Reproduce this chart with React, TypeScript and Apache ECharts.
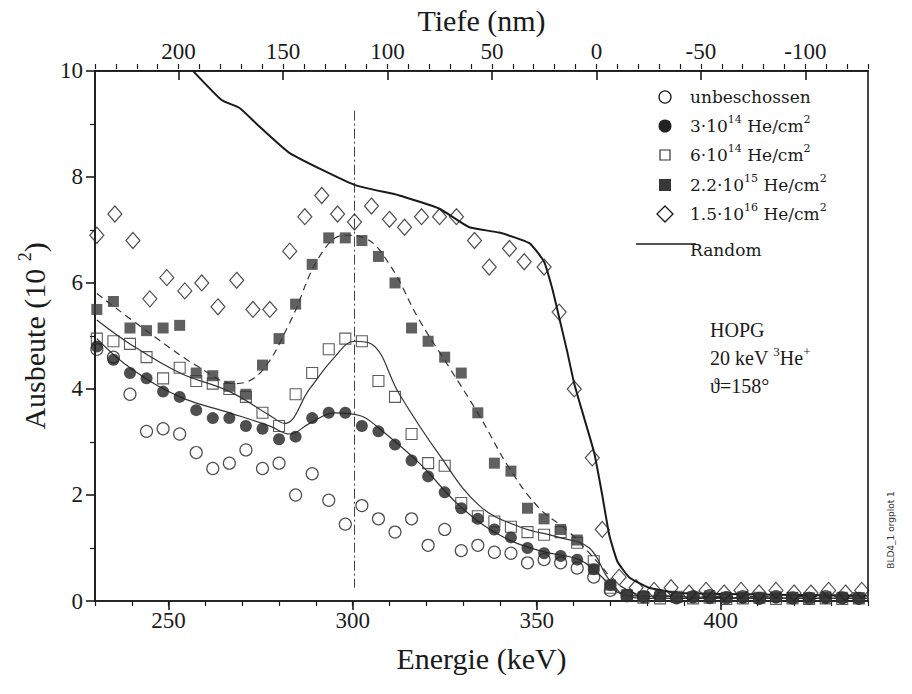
import React, { useEffect, useRef } from 'react';
import * as echarts from 'echarts';

// ---- tick labels ----
const energyLabels = [250, 300, 350, 400];
const depthLabels = [200, 150, 100, 50, 0, -50, -100];

// ---- measured channels (keV) shared by circles and squares ----
const channelEnergy = [
  230.5, 235, 239.5, 244, 248.5, 253, 257.5, 262, 266.5, 271, 275.5, 280, 284.5, 289, 293.5, 298,
  302.5, 307, 311.5, 316, 320.5, 325, 329.5, 334, 338.5, 343, 347.5, 352, 356.5, 361, 365.5, 370,
  374.5, 379, 383.5, 388, 392.5, 397, 401.5, 406, 410.5, 415, 419.5, 424, 428.5, 433, 437.5,
];
const unbeschossen = [
  4.75, 4.6, 3.9, 3.2, 3.25, 3.15, 2.8, 2.5, 2.6, 2.85, 2.5, 2.6, 2.0, 2.4, 1.9, 1.45, 1.8, 1.55,
  1.3, 1.55, 1.05, 1.35, 0.95, 1.05, 0.92, 0.9, 0.72, 0.78, 0.72, 0.62, 0.45, 0.2, 0.1, 0.08, 0.1,
  0.06, 0.08, 0.1, 0.06, 0.08, 0.05, 0.08, 0.06, 0.05, 0.08, 0.06, 0.05,
];
const dose3e14 = [
  4.8, 4.55, 4.3, 4.2, 3.95, 3.85, 3.6, 3.45, 3.45, 3.3, 3.25, 3.05, 3.1, 3.45, 3.55, 3.55, 3.3,
  3.2, 2.95, 2.65, 2.35, 2.05, 1.75, 1.55, 1.35, 1.2, 1.0, 0.9, 0.85, 0.78, 0.6, 0.3, 0.12, 0.08,
  0.1, 0.06, 0.08, 0.05, 0.07, 0.06, 0.05, 0.07, 0.05, 0.06, 0.05, 0.06, 0.05,
];
const dose6e14 = [
  4.95, 4.9, 4.85, 4.6, 4.2, 4.4, 4.15, 4.1, 4.0, 3.85, 3.55, 3.3, 3.9, 4.3, 4.75, 4.95, 4.9, 4.15,
  3.85, 3.15, 2.6, 2.55, 1.85, 1.6, 1.5, 1.4, 1.3, 1.25, 1.3, 1.1, 0.75, 0.25, 0.1, 0.06, 0.05,
  0.08, 0.05, 0.06, 0.04, 0.05, 0.06, 0.04, 0.05, 0.04, 0.05, 0.04, 0.05,
];
const dose22e15 = [
  5.5, 5.65, 5.15, 5.1, 5.15, 5.2, 4.3, 4.25, 4.05, 3.9, 4.45, 4.95, 5.6, 6.35, 6.85, 6.85, 6.8,
  6.5, 6.0, 5.15, 4.9, 4.6, 4.3, 3.55, 2.6, 2.45, 1.75, 1.55, 1.35, 1.15, 0.6, 0.3, 0.12, 0.08, 0.1,
  0.07, 0.08, 0.1, 0.07, 0.08, 0.06, 0.08, 0.07, 0.06, 0.08, 0.07, 0.06,
];
// ---- diamonds (1.5e16) ----
const diamondEnergy = [
  230.5, 235.4, 240.3, 244.9, 249.5, 254.4, 259.0, 263.4, 268.5, 272.9, 277.5, 282.9, 287.0, 291.6,
  295.9, 300.5, 305.1, 310.0, 314.1, 318.7, 323.6, 328.2, 333.1, 337.1, 342.6, 346.6, 352.0, 356.1,
  360.2, 365.1, 367.8, 372.4, 377.0, 381.9, 386.5, 391.4, 396.0, 400.9, 405.5, 410.4, 415.0, 419.9,
  424.5, 429.3, 433.9, 438.3,
];
const dose15e16 = [
  6.9, 7.3, 6.8, 5.7, 6.1, 5.85, 6.0, 5.55, 6.05, 5.5, 5.5, 6.6, 7.25, 7.65, 7.3, 7.15, 7.45, 7.2,
  7.05, 7.25, 7.25, 7.25, 6.8, 6.3, 6.65, 6.4, 6.3, 5.45, 4.0, 2.7, 1.35, 0.45, 0.25, 0.2, 0.25,
  0.15, 0.2, 0.15, 0.2, 0.15, 0.2, 0.15, 0.15, 0.2, 0.15, 0.2,
];
// ---- random spectrum ----
const randomEnergy = [
  256.6, 264.4, 269.3, 273.9, 282.9, 300.5, 312.7, 323.6, 331.7, 339.8, 348.0, 352.0, 354.2, 356.1,
  358.3, 360.2, 362.9, 365.6, 367.8, 369.7, 371.9, 375.1, 380.5, 388.7, 439.7,
];
const randomYield = [
  10, 9.45, 9.3, 9.0, 8.45, 7.85, 7.65, 7.4, 7.05, 6.95, 6.75, 6.4, 5.9, 5.35, 4.7, 4.1, 3.45, 2.8,
  2.0, 1.25, 0.75, 0.45, 0.25, 0.15, 0.1,
];
// ---- guide curves ----
const fit3e14Energy = [230.5, 239.5, 253.1, 266.6, 277.5, 282.9, 288.3, 295.1, 301.9, 307.3, 318.1, 329.0, 339.8, 350.7, 361.5, 367.0, 372.4, 380.5, 439.7];
const fit3e14Yield = [4.95, 4.4, 3.85, 3.55, 3.3, 3.15, 3.35, 3.55, 3.5, 3.25, 2.6, 1.8, 1.25, 0.95, 0.78, 0.5, 0.15, 0.05, 0.05];
const fit6e14Energy = [230.5, 239.5, 253.1, 266.6, 277.5, 281.5, 288.3, 295.1, 300.5, 305.1, 312.7, 323.6, 334.4, 345.3, 356.1, 364.3, 369.7, 375.1, 439.7];
const fit6e14Yield = [5.3, 4.85, 4.3, 3.95, 3.5, 3.35, 4.0, 4.6, 4.9, 4.85, 3.9, 2.75, 1.8, 1.4, 1.2, 1.0, 0.4, 0.1, 0.05];
const fit22e15Energy = [230.5, 244.9, 258.5, 268.0, 274.8, 282.9, 291.0, 297.8, 303.2, 310.0, 318.1, 326.3, 334.4, 342.6, 350.7, 358.8, 367.0, 372.4, 380.5, 439.7];
const fit22e15Yield = [5.8, 5.05, 4.4, 4.1, 4.3, 5.25, 6.5, 6.9, 6.85, 6.35, 5.3, 4.4, 3.5, 2.5, 1.75, 1.3, 0.7, 0.3, 0.1, 0.08];
// ---- vertical marker at the 300 keV / ~115 nm position ----
const markerEnergy = [300.5, 300.5];
const markerYield = [9.25, 0.25];

const SERIF = "'Liberation Serif', serif";
const LEG = "'DejaVu Serif', serif";
const INK = '#1a1a1a';

const pairs = (xs: number[], ys: number[]) => xs.map((x, i) => [x, ys[i]]);

export default function App() {
  const ref = useRef<HTMLDivElement>(null);
  useEffect(() => {
    const chart = echarts.init(ref.current!, null, { renderer: 'svg' });
    const g = { left: 95, top: 64, width: 773, height: 537 };
    const axLine = { color: INK, width: 1.6 };
    const labelStyle = { fontFamily: SERIF, fontSize: 23, color: INK };
    const legRows = [97, 126, 155, 185, 214];
    const symX = 665;
    const txtX = 690;
    const supRich = {
      s: { fontFamily: LEG, fontSize: 11, verticalAlign: 'top', fill: INK, lineHeight: 12 },
    };
    const legText = (y: number, text: string) => ({
      type: 'text',
      x: txtX,
      y,
      style: {
        text,
        fontFamily: LEG,
        fontSize: 17,
        lineHeight: 24,
        fill: INK,
        verticalAlign: 'middle',
        rich: supRich,
      },
    });
    chart.setOption({
      animation: false,
      backgroundColor: '#ffffff',
      textStyle: { fontFamily: SERIF },
      grid: [
        { ...g, show: true, borderColor: INK, borderWidth: 1.6, backgroundColor: 'transparent' },
        { ...g },
      ],
      xAxis: [
        {
          type: 'value', gridIndex: 0, position: 'bottom', min: 230, max: 440,
          name: 'Energie (keV)', nameLocation: 'middle', nameGap: 42,
          nameTextStyle: { fontFamily: SERIF, fontSize: 30, color: INK },
          axisLine: { show: true, onZero: false, lineStyle: axLine },
          axisTick: { show: true, customValues: energyLabels, length: 9, inside: false, lineStyle: axLine },
          axisLabel: { customValues: energyLabels, margin: 8, ...labelStyle },
          splitLine: { show: false },
        },
        {
          type: 'value', gridIndex: 0, position: 'top', inverse: true, min: -130, max: 240,
          name: 'Tiefe (nm)', nameLocation: 'middle', nameGap: 32,
          nameTextStyle: { fontFamily: SERIF, fontSize: 30, color: INK },
          axisLine: { show: true, onZero: false, lineStyle: axLine },
          axisTick: { show: true, customValues: depthLabels, length: 9, inside: true, lineStyle: axLine },
          axisLabel: { customValues: depthLabels, margin: 8, ...labelStyle },
          splitLine: { show: false },
        },
        {
          type: 'value', gridIndex: 1, position: 'bottom', min: 230, max: 440, interval: 10,
          axisLine: { show: false },
          axisTick: { show: true, length: 5, inside: false, lineStyle: { color: INK, width: 1.2 } },
          axisLabel: { show: false }, splitLine: { show: false },
        },
        {
          type: 'value', gridIndex: 1, position: 'top', inverse: true, min: -130, max: 240, interval: 10,
          axisLine: { show: false },
          axisTick: { show: true, length: 5, inside: true, lineStyle: { color: INK, width: 1.2 } },
          axisLabel: { show: false }, splitLine: { show: false },
        },
      ],
      yAxis: [
        {
          type: 'value', gridIndex: 0, min: 0, max: 10, interval: 2,
          name: '{a|Ausbeute (10 }{b|2}{a|)}', nameLocation: 'middle', nameGap: 40, nameRotate: 90,
          nameTextStyle: {
            rich: {
              a: { fontFamily: SERIF, fontSize: 30, color: INK, lineHeight: 36 },
              b: { fontFamily: SERIF, fontSize: 18, color: INK, verticalAlign: 'top', lineHeight: 18 },
            },
          },
          axisLine: { show: true, onZero: false, lineStyle: axLine },
          axisTick: { show: true, length: 9, inside: false, lineStyle: axLine },
          minorTick: { show: true, splitNumber: 2, length: 5, lineStyle: { color: INK, width: 1.2 } },
          axisLabel: { margin: 12, ...labelStyle },
          splitLine: { show: false },
        },
        { type: 'value', gridIndex: 1, min: 0, max: 10, show: false },
      ],
      series: [
        {
          type: 'line', data: pairs(markerEnergy, markerYield), symbol: 'none', silent: true,
          lineStyle: { color: '#444', width: 1, type: [10, 3, 2, 3] }, z: 1,
        },
        {
          type: 'line', data: pairs(randomEnergy, randomYield), symbol: 'none', smooth: 0.15,
          lineStyle: { color: INK, width: 2 }, z: 2,
        },
        {
          type: 'line', data: pairs(fit3e14Energy, fit3e14Yield), symbol: 'none', smooth: 0.4,
          lineStyle: { color: '#333', width: 1.2 }, z: 2,
        },
        {
          type: 'line', data: pairs(fit6e14Energy, fit6e14Yield), symbol: 'none', smooth: 0.4,
          lineStyle: { color: '#333', width: 1.2 }, z: 2,
        },
        {
          type: 'line', data: pairs(fit22e15Energy, fit22e15Yield), symbol: 'none', smooth: 0.4,
          lineStyle: { color: '#333', width: 1.2, type: [7, 5] }, z: 2,
        },
        {
          name: 'unbeschossen', type: 'scatter', data: pairs(channelEnergy, unbeschossen),
          symbol: 'circle', symbolSize: 12,
          itemStyle: { color: 'transparent', borderColor: '#222', borderWidth: 1.2 }, z: 3,
        },
        {
          name: '3e14', type: 'scatter', data: pairs(channelEnergy, dose3e14),
          symbol: 'circle', symbolSize: 12, itemStyle: { color: '#222222' }, z: 3,
        },
        {
          name: '6e14', type: 'scatter', data: pairs(channelEnergy, dose6e14),
          symbol: 'rect', symbolSize: 11,
          itemStyle: { color: 'transparent', borderColor: '#333', borderWidth: 1.1 }, z: 3,
        },
        {
          name: '2.2e15', type: 'scatter', data: pairs(channelEnergy, dose22e15),
          symbol: 'rect', symbolSize: 11, itemStyle: { color: '#383838' }, z: 3,
        },
        {
          name: '1.5e16', type: 'scatter', data: pairs(diamondEnergy, dose15e16),
          symbol: 'diamond', symbolSize: [14, 16],
          itemStyle: { color: 'transparent', borderColor: '#222', borderWidth: 1.2 }, z: 3,
        },
      ],
      graphic: [
        { type: 'circle', shape: { cx: symX, cy: legRows[0], r: 6 }, style: { fill: 'none', stroke: INK, lineWidth: 1.3 } },
        { type: 'circle', shape: { cx: symX, cy: legRows[1], r: 6.5 }, style: { fill: '#222222' } },
        { type: 'rect', shape: { x: symX - 5, y: legRows[2] - 5, width: 10, height: 10 }, style: { fill: 'none', stroke: '#333', lineWidth: 1.2 } },
        { type: 'rect', shape: { x: symX - 6, y: legRows[3] - 6, width: 12, height: 12 }, style: { fill: '#383838' } },
        {
          type: 'polygon',
          shape: { points: [[symX, legRows[4] - 8], [symX + 8, legRows[4]], [symX, legRows[4] + 8], [symX - 8, legRows[4]]] },
          style: { fill: 'none', stroke: INK, lineWidth: 1.3 },
        },
        { type: 'line', shape: { x1: 636, y1: 244, x2: 696, y2: 244 }, style: { stroke: INK, lineWidth: 1.5 } },
        legText(legRows[0], 'unbeschossen'),
        legText(legRows[1], '3·10{s|14} He/cm{s|2}'),
        legText(legRows[2], '6·10{s|14} He/cm{s|2}'),
        legText(legRows[3], '2.2·10{s|15} He/cm{s|2}'),
        legText(legRows[4], '1.5·10{s|16} He/cm{s|2}'),
        legText(250, 'Random'),
        {
          type: 'text', x: 710, y: 330,
          style: { text: 'HOPG', fontFamily: SERIF, fontSize: 20, fill: INK, verticalAlign: 'middle' },
        },
        {
          type: 'text', x: 710, y: 358,
          style: {
            text: '20 keV {s|3}He{s|+}', fontFamily: SERIF, fontSize: 20, lineHeight: 26, fill: INK, verticalAlign: 'middle',
            rich: { s: { fontFamily: SERIF, fontSize: 13, verticalAlign: 'top', fill: INK, lineHeight: 14 } },
          },
        },
        {
          type: 'text', x: 710, y: 386,
          style: { text: 'ϑ=158°', fontFamily: SERIF, fontSize: 20, fill: INK, verticalAlign: 'middle' },
        },
        {
          type: 'text', x: 891, y: 530, rotation: Math.PI / 2,
          style: { text: 'BLD4_1 orgplot 1', fontFamily: "'DejaVu Sans', sans-serif", fontSize: 9, fill: '#333', align: 'center', verticalAlign: 'middle' },
        },
      ],
    });
    return () => chart.dispose();
  }, []);
  return <div ref={ref} style={{ position: 'fixed', left: 0, top: 0, width: 912, height: 694 }} />;
}
